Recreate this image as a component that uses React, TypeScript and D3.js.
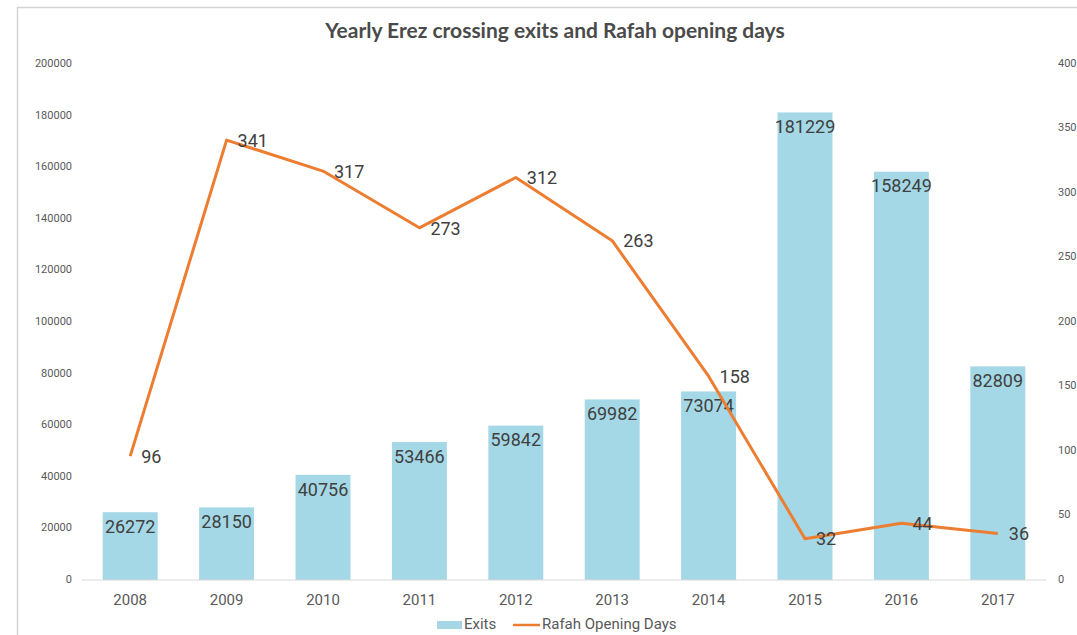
import React from "react";
import * as d3 from "d3";

const years = ["2008", "2009", "2010", "2011", "2012", "2013", "2014", "2015", "2016", "2017"];
const exits = [26272, 28150, 40756, 53466, 59842, 69982, 73074, 181229, 158249, 82809];
const rafahDays = [96, 341, 317, 273, 312, 263, 158, 32, 44, 36];
const leftTicks = [0, 20000, 40000, 60000, 80000, 100000, 120000, 140000, 160000, 180000, 200000];
const rightTicks = [0, 50, 100, 150, 200, 250, 300, 350, 400];

const W = 1077;
const H = 635;
const M = { left: 82, right: 1046, top: 64, bottom: 580 };

export default function App() {
  const x = d3.scaleBand<string>().domain(years).range([M.left, M.right]).paddingInner(0.43).paddingOuter(0.215);
  const yL = d3.scaleLinear().domain([0, 200000]).range([M.bottom, M.top]);
  const yR = d3.scaleLinear().domain([0, 400]).range([M.bottom, M.top]);
  const cx = (y: string) => (x(y) as number) + x.bandwidth() / 2;
  const line = d3
    .line<number>()
    .x((_, i) => cx(years[i]))
    .y((d) => yR(d));
  const font = "Roboto, 'Open Sans', sans-serif";
  return (
    <svg width={W} height={H} style={{ position: "absolute", left: 0, top: 0 }} fontFamily={font}>
      <rect x={0} y={0} width={W} height={H} fill="#fff" />
      <rect x={17.5} y={7.5} width={W + 20} height={H + 20} fill="none" stroke="#d4d4d4" strokeWidth={1.5} />
      <text x={555} y={33} textAnchor="middle" dominantBaseline="middle" fontFamily="Lato, 'Open Sans', sans-serif" fontWeight={700} fontSize={21} fill="#4a4a4a">
        Yearly Erez crossing exits and Rafah opening days
      </text>
      {leftTicks.map((t) => (
        <text key={"l" + t} x={72} y={yL(t)} textAnchor="end" dominantBaseline="middle" fontSize={11} fill="#595959">
          {t}
        </text>
      ))}
      {rightTicks.map((t) => (
        <text key={"r" + t} x={1058} y={yR(t)} textAnchor="start" dominantBaseline="middle" fontSize={11} fill="#595959">
          {t}
        </text>
      ))}
      {years.map((yr, i) => (
        <rect key={"b" + yr} x={x(yr)} y={yL(exits[i])} width={x.bandwidth()} height={M.bottom - yL(exits[i])} fill="#A5D8E6" />
      ))}
      <line x1={M.left} x2={M.right} y1={M.bottom} y2={M.bottom} stroke="#d9d9d9" strokeWidth={1} />
      {years.map((yr) => (
        <text key={"x" + yr} x={cx(yr)} y={601} textAnchor="middle" dominantBaseline="middle" fontSize={15} fill="#595959">
          {yr}
        </text>
      ))}
      {years.map((yr, i) => (
        <text key={"bl" + yr} x={cx(yr)} y={yL(exits[i]) + 16} textAnchor="middle" dominantBaseline="middle" fontSize={18} fill="#404040">
          {exits[i]}
        </text>
      ))}
      <path d={line(rafahDays) || ""} fill="none" stroke="#ED7D31" strokeWidth={3} strokeLinejoin="round" />
      {years.map((yr, i) => (
        <text
          key={"ll" + yr}
          x={cx(yr) + 11}
          y={yR(rafahDays[i]) + 2}
          textAnchor="start"
          dominantBaseline="middle"
          fontSize={18}
          fill="#404040"
        >
          {rafahDays[i]}
        </text>
      ))}
      <rect x={437} y={621} width={25} height={8} fill="#A5D8E6" />
      <text x={464} y={625} dominantBaseline="middle" fontSize={15} fill="#595959">
        Exits
      </text>
      <line x1={513} x2={540} y1={625} y2={625} stroke="#ED7D31" strokeWidth={2.5} />
      <text x={542} y={625} dominantBaseline="middle" fontSize={15} fill="#595959">
        Rafah Opening Days
      </text>
    </svg>
  );
}
